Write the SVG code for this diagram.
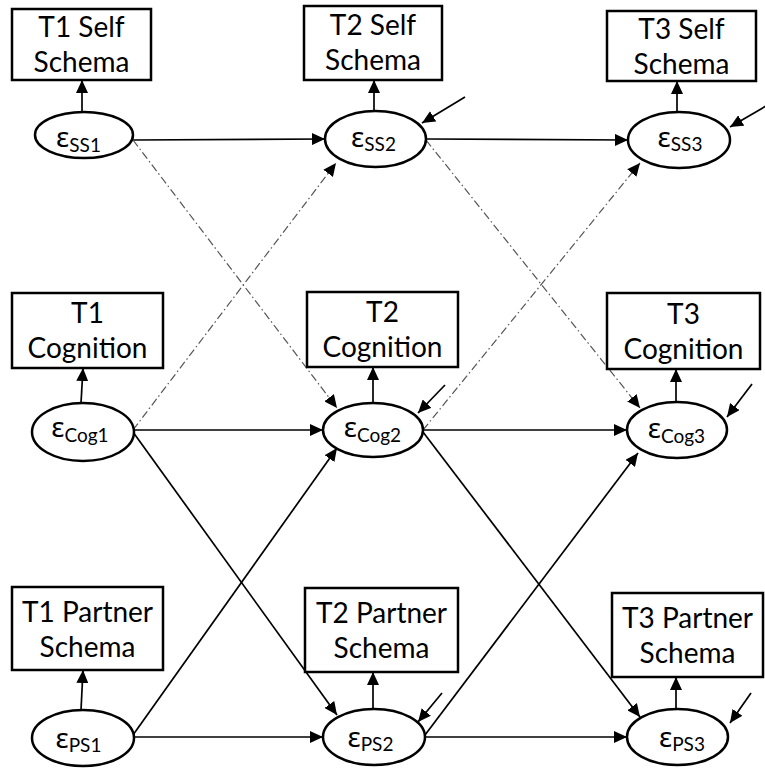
<svg xmlns="http://www.w3.org/2000/svg" width="765" height="768" viewBox="0 0 765 768">
  <defs>
    <marker id="head" markerWidth="13" markerHeight="12" refX="13" refY="6" orient="auto" markerUnits="userSpaceOnUse">
      <path d="M0,0 L13,6 L0,12 z" fill="#000"/>
    </marker>
    <style>
      .box { fill: #fff; stroke: #000; stroke-width: 2.5; }
      .ell { fill: #fff; stroke: #000; stroke-width: 2.5; }
      .lbl { font-family: Lato, "Noto Sans", sans-serif; font-size: 28px; fill: #000; text-anchor: middle; }
      .eps { font-family: "Noto Sans", Lato, sans-serif; font-size: 28px; fill: #000; text-anchor: middle; }
      .sub { font-family: Lato, "Noto Sans", sans-serif; font-size: 19px; }
      .path { stroke: #000; stroke-width: 1.7; fill: none; marker-end: url(#head); }
      .cross { stroke: #555; stroke-width: 1.2; fill: none; stroke-dasharray: 8 3 1.5 3; marker-end: url(#head); }
    </style>
  </defs>
  <rect width="765" height="768" fill="#fff"/>

  <!-- connectors -->
  <g id="connectors">
    <!-- stability paths -->
    <line class="path" x1="133" y1="140" x2="325" y2="139"/>
    <line class="path" x1="426" y1="139" x2="628" y2="140"/>
    <line class="path" x1="133" y1="430" x2="323" y2="430"/>
    <line class="path" x1="423" y1="430" x2="627" y2="430"/>
    <line class="path" x1="133" y1="737" x2="323" y2="737"/>
    <line class="path" x1="425" y1="737" x2="627" y2="737"/>
    <!-- self schema / cognition cross-lags -->
    <line class="cross" x1="133" y1="140" x2="337" y2="408"/>
    <line class="cross" x1="133" y1="430" x2="336" y2="163"/>
    <line class="cross" x1="426" y1="140" x2="640" y2="408"/>
    <line class="cross" x1="423" y1="430" x2="640" y2="163"/>
    <!-- cognition / partner schema cross-lags -->
    <line class="path" x1="133" y1="432" x2="337" y2="715"/>
    <line class="path" x1="133" y1="735" x2="337" y2="448"/>
    <line class="path" x1="423" y1="432" x2="640" y2="717"/>
    <line class="path" x1="425" y1="735" x2="638" y2="453"/>
    <!-- residual arrows -->
    <line class="path" x1="465" y1="97" x2="422" y2="123"/>
    <line class="path" x1="766" y1="106" x2="730" y2="127"/>
    <line class="path" x1="445" y1="385" x2="418" y2="413"/>
    <line class="path" x1="752" y1="384" x2="727" y2="417"/>
    <line class="path" x1="442" y1="693" x2="418" y2="722"/>
    <line class="path" x1="751" y1="693" x2="730" y2="723"/>
    <!-- latent to indicator -->
    <line class="path" x1="82" y1="112" x2="82" y2="80"/>
    <line class="path" x1="374" y1="111" x2="374" y2="80"/>
    <line class="path" x1="677" y1="112" x2="677" y2="81"/>
    <line class="path" x1="81" y1="403" x2="83" y2="368"/>
    <line class="path" x1="373" y1="403" x2="373" y2="367"/>
    <line class="path" x1="676" y1="402" x2="676" y2="369"/>
    <line class="path" x1="81" y1="710" x2="83" y2="670"/>
    <line class="path" x1="373" y1="709" x2="373" y2="672"/>
    <line class="path" x1="676" y1="709" x2="676" y2="677"/>
  </g>

  <!-- observed indicators -->
  <g id="t1-self">
    <rect class="box" x="12" y="9" width="139" height="71"/>
    <text class="lbl" x="81.5" y="37">T1 Self</text>
    <text class="lbl" x="81.5" y="72">Schema</text>
  </g>
  <g id="t2-self">
    <rect class="box" x="304" y="6" width="138" height="74"/>
    <text class="lbl" x="373" y="35">T2 Self</text>
    <text class="lbl" x="373" y="70">Schema</text>
  </g>
  <g id="t3-self">
    <rect class="box" x="607" y="11" width="149" height="70"/>
    <text class="lbl" x="681.5" y="39">T3 Self</text>
    <text class="lbl" x="681.5" y="74">Schema</text>
  </g>
  <g id="t1-cognition">
    <rect class="box" x="12" y="293" width="151" height="75"/>
    <text class="lbl" x="87.5" y="323">T1</text>
    <text class="lbl" x="87.5" y="358">Cognition</text>
  </g>
  <g id="t2-cognition">
    <rect class="box" x="307" y="292" width="151" height="75"/>
    <text class="lbl" x="382.5" y="322">T2</text>
    <text class="lbl" x="382.5" y="357">Cognition</text>
  </g>
  <g id="t3-cognition">
    <rect class="box" x="607" y="293" width="153" height="76"/>
    <text class="lbl" x="683.5" y="324">T3</text>
    <text class="lbl" x="683.5" y="359">Cognition</text>
  </g>
  <g id="t1-partner">
    <rect class="box" x="12" y="587" width="151" height="83"/>
    <text class="lbl" x="87.5" y="622">T1 Partner</text>
    <text class="lbl" x="87.5" y="657">Schema</text>
  </g>
  <g id="t2-partner">
    <rect class="box" x="305" y="588" width="153" height="84"/>
    <text class="lbl" x="381.5" y="623">T2 Partner</text>
    <text class="lbl" x="381.5" y="658">Schema</text>
  </g>
  <g id="t3-partner">
    <rect class="box" x="612" y="593" width="151" height="84"/>
    <text class="lbl" x="687.5" y="628">T3 Partner</text>
    <text class="lbl" x="687.5" y="663">Schema</text>
  </g>

  <!-- latent residual terms -->
  <g id="e-ss1">
    <ellipse class="ell" cx="84" cy="135" rx="49" ry="23"/>
    <text class="eps" x="78.5" y="147">ε<tspan class="sub" dy="5">SS1</tspan></text>
  </g>
  <g id="e-ss2">
    <ellipse class="ell" cx="375.5" cy="139" rx="50.5" ry="28"/>
    <text class="eps" x="373.5" y="147">ε<tspan class="sub" dy="4">SS2</tspan></text>
  </g>
  <g id="e-ss3">
    <ellipse class="ell" cx="679" cy="140" rx="51" ry="28"/>
    <text class="eps" x="680" y="147">ε<tspan class="sub" dy="4">SS3</tspan></text>
  </g>
  <g id="e-cog1">
    <ellipse class="ell" cx="83" cy="432" rx="51" ry="29"/>
    <text class="eps" x="80" y="437">ε<tspan class="sub" dy="5">Cog1</tspan></text>
  </g>
  <g id="e-cog2">
    <ellipse class="ell" cx="373" cy="430" rx="50" ry="27"/>
    <text class="eps" x="372.5" y="437">ε<tspan class="sub" dy="5">Cog2</tspan></text>
  </g>
  <g id="e-cog3">
    <ellipse class="ell" cx="677" cy="430" rx="50" ry="28"/>
    <text class="eps" x="676.5" y="438">ε<tspan class="sub" dy="5">Cog3</tspan></text>
  </g>
  <g id="e-ps1">
    <ellipse class="ell" cx="83" cy="738" rx="51" ry="28"/>
    <text class="eps" x="78.5" y="748">ε<tspan class="sub" dy="4">PS1</tspan></text>
  </g>
  <g id="e-ps2">
    <ellipse class="ell" cx="374" cy="737" rx="51" ry="28"/>
    <text class="eps" x="370.5" y="747">ε<tspan class="sub" dy="4">PS2</tspan></text>
  </g>
  <g id="e-ps3">
    <ellipse class="ell" cx="677.5" cy="737" rx="50.5" ry="28"/>
    <text class="eps" x="682" y="747">ε<tspan class="sub" dy="4">PS3</tspan></text>
  </g>
</svg>
